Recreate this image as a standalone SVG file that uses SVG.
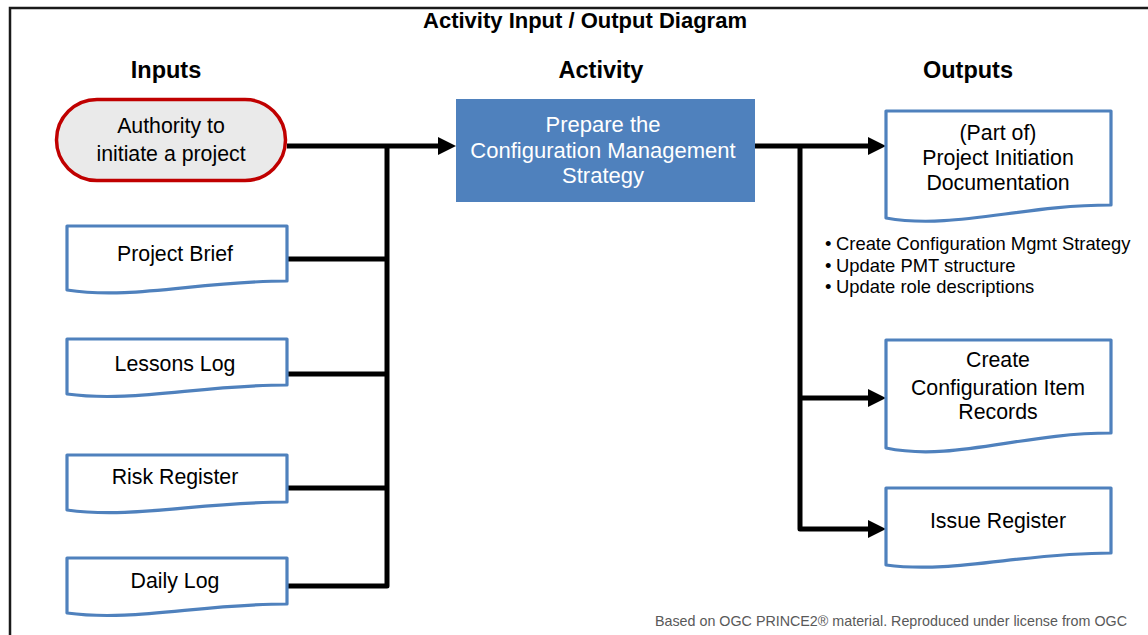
<svg xmlns="http://www.w3.org/2000/svg" width="1148" height="635" viewBox="0 0 1148 635">
<defs>
<style>
text{font-family:"Liberation Sans",Arial,sans-serif;fill:#000}
.hd{font-weight:bold;font-size:23.5px;text-anchor:middle}
.tt{font-weight:bold;font-size:22px;text-anchor:middle}
.lb{font-size:21.3px;text-anchor:middle}
.wl{font-size:22px;text-anchor:middle;fill:#fff}
.bl{font-size:18.4px}
.ft{font-size:14.5px;fill:#595959}
.doc{fill:#fff;stroke:#4F81BD;stroke-width:3.2;stroke-linejoin:round}
.cn{fill:none;stroke:#000;stroke-width:5;stroke-linejoin:round}
</style>
<marker id="ah" viewBox="0 0 18 18" refX="0" refY="9" markerWidth="18" markerHeight="18" markerUnits="userSpaceOnUse" orient="auto">
<path d="M0,0 L18,9 L0,18 z" fill="#000"/>
</marker>
</defs>
<rect width="1148" height="635" fill="#fff"/>
<path d="M10,640 V8 H1150" fill="none" stroke="#1a1a1a" stroke-width="2.5"/>
<text class="tt" x="585" y="28">Activity Input / Output Diagram</text>
<text class="hd" x="166" y="78">Inputs</text>
<text class="hd" x="601" y="78">Activity</text>
<text class="hd" x="968" y="78">Outputs</text>

<g id="connectors">
<path class="cn" d="M287,146 H438" marker-end="url(#ah)"/>
<path class="cn" d="M287,586 H387 V146"/>
<path class="cn" d="M287,259 H387"/>
<path class="cn" d="M287,374 H387"/>
<path class="cn" d="M287,488 H387"/>
<path class="cn" d="M755,146 H868" marker-end="url(#ah)"/>
<path class="cn" d="M800,146 V529 H868" marker-end="url(#ah)"/>
<path class="cn" d="M800,398 H868" marker-end="url(#ah)"/>
</g>

<g id="authority">
<rect x="56.5" y="99.5" width="229" height="81" rx="40.5" fill="#EAEAEA" stroke="#C00000" stroke-width="3.5"/>
<text class="lb" x="171" y="133">Authority to</text>
<text class="lb" x="171" y="161">initiate a project</text>
</g>
<g id="project-brief">
<path class="doc" d="M67,226 H287 V281 C199,281 133,300 67,290 Z"/>
<text class="lb" x="175" y="261">Project Brief</text>
</g>
<g id="lessons-log">
<path class="doc" d="M67,339 H287 V385 C199,385 133,403 67,394 Z"/>
<text class="lb" x="175" y="371">Lessons Log</text>
</g>
<g id="risk-register">
<path class="doc" d="M67,455 H287 V502 C199,502 133,519 67,510 Z"/>
<text class="lb" x="175" y="484">Risk Register</text>
</g>
<g id="daily-log">
<path class="doc" d="M67,558 H287 V604 C199,604 133,622 67,613 Z"/>
<text class="lb" x="175" y="588">Daily Log</text>
</g>

<g id="activity">
<rect x="456" y="99" width="299" height="103" fill="#4F81BD"/>
<text class="wl" x="603" y="132">Prepare the</text>
<text class="wl" x="603" y="158">Configuration Management</text>
<text class="wl" x="603" y="183">Strategy</text>
</g>

<g id="pid">
<path class="doc" d="M886,111 H1111 V205 C1021,205 953,230 886,218 Z"/>
<text class="lb" x="998" y="140">(Part of)</text>
<text class="lb" x="998" y="165">Project Initiation</text>
<text class="lb" x="998" y="190">Documentation</text>
</g>
<g id="pid-notes">
<text class="bl" x="825" y="250">•</text><text class="bl" x="836" y="250">Create Configuration Mgmt Strategy</text>
<text class="bl" x="825" y="272">•</text><text class="bl" x="836" y="272">Update PMT structure</text>
<text class="bl" x="825" y="293">•</text><text class="bl" x="836" y="293">Update role descriptions</text>
</g>
<g id="config-items">
<path class="doc" d="M886,340 H1111 V433 C1021,433 953,462 886,448 Z"/>
<text class="lb" x="998" y="367">Create</text>
<text class="lb" x="998" y="395">Configuration Item</text>
<text class="lb" x="998" y="419">Records</text>
</g>
<g id="issue-register">
<path class="doc" d="M886,488 H1111 V553 C1021,553 953,574 886,565 Z"/>
<text class="lb" x="998" y="528">Issue Register</text>
</g>

<text class="ft" x="655" y="626" textLength="472" lengthAdjust="spacingAndGlyphs">Based on OGC PRINCE2® material. Reproduced under license from OGC</text>
</svg>
